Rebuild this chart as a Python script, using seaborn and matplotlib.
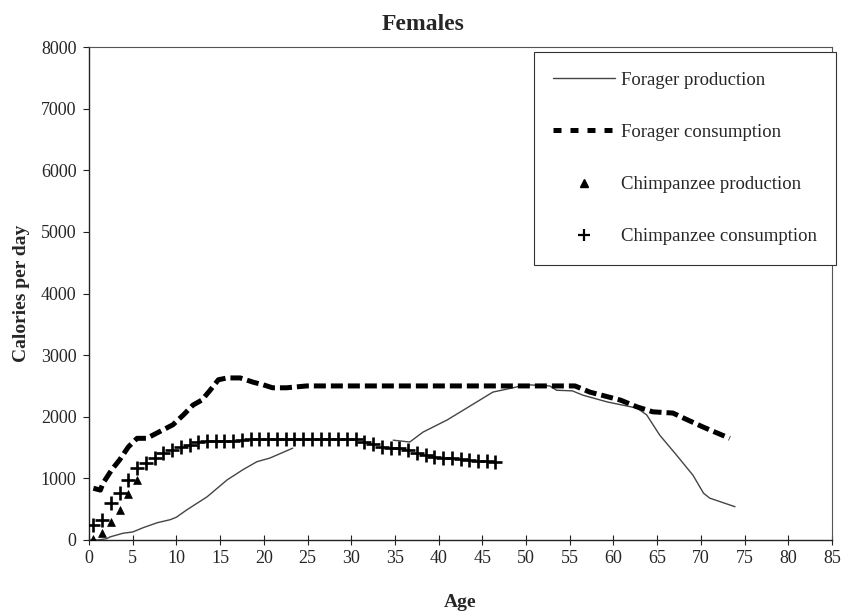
import numpy as np
import pandas as pd
import matplotlib
matplotlib.use("Agg")
import matplotlib.pyplot as plt
from matplotlib.lines import Line2D
import seaborn as sns

# ---------------- data ----------------
forager_prod_age = [0, 1, 2, 2.4, 3.9, 5, 6.2, 7.8, 9.3, 10, 11.2, 13.5, 15.8, 17.6,
                    19.2, 20.7, 23.3,
                    34.8, 36.7, 38.2, 41, 43.2, 46.2, 48.5, 50, 52.7, 53.5, 55.3, 56.5,
                    59.3, 62.7, 63.8, 65.3, 67.2, 69.1, 70.3, 71, 73.9]
forager_prod_cal = [0, 0, 20, 50, 110, 130, 200, 280, 330, 370, 490, 700, 975, 1140,
                    1270, 1330, 1490,
                    1620, 1590, 1750, 1950, 2140, 2400, 2470, 2520, 2500, 2430, 2420, 2350,
                    2240, 2140, 2030, 1700, 1380, 1050, 760, 680, 540]
# segment id: the scanned line is broken between ages ~23 and ~35
forager_prod_seg = [0] * 17 + [1] * 21

forager_cons_age = [0.5, 1.3, 1.6, 2.6, 3.5, 4.5, 5.5, 6.6, 8.1, 9.6, 10.8, 11.9, 12.9,
                    13.8, 14.8, 15.8, 17.3, 18.8, 19.9, 21, 22.6, 24.9, 27, 55.6, 57.3,
                    60.8, 62.7, 64.5, 66.8, 68, 70.3, 73.3]
forager_cons_cal = [840, 810, 920, 1140, 1300, 1510, 1650, 1650, 1760, 1870, 2030, 2190,
                    2270, 2420, 2600, 2630, 2630, 2560, 2520, 2470, 2470, 2500, 2500, 2500,
                    2400, 2270, 2160, 2080, 2060, 1980, 1830, 1650]

chimp_prod_age = [0.5, 1.5, 2.5, 3.5, 4.5, 5.5]
chimp_prod_cal = [20, 110, 290, 490, 750, 970]

chimp_cons_age = [0.5, 1.5, 2.5, 3.5, 4.5, 5.5, 6.5, 7.5, 8.5, 9.5, 10.5, 11.5, 12.5,
                  13.5, 14.5, 15.5, 16.5, 17.5, 18.5, 19.5, 20.5, 21.5, 22.5, 23.5, 24.5,
                  25.5, 26.5, 27.5, 28.5, 29.5, 30.5, 31.5, 32.5, 33.5, 34.5, 35.5, 36.5,
                  37.5, 38.5, 39.5, 40.5, 41.5, 42.5, 43.5, 44.5, 45.5, 46.5]
chimp_cons_cal = [250, 330, 600, 770, 970, 1170, 1250, 1330, 1410, 1460, 1510, 1540, 1590,
                  1610, 1610, 1610, 1610, 1620, 1640, 1640, 1640, 1640, 1640, 1640, 1640,
                  1640, 1640, 1640, 1640, 1640, 1640, 1590, 1560, 1510, 1490, 1490, 1460,
                  1410, 1380, 1350, 1330, 1330, 1320, 1300, 1290, 1280, 1270]

labels = ["Forager production", "Forager consumption",
          "Chimpanzee production", "Chimpanzee consumption"]
x_ticks = list(range(0, 90, 5))
y_ticks = list(range(0, 9000, 1000))

# ---------------- style ----------------
sns.set_theme(style="white")
plt.rcParams['font.family'] = ['Liberation Serif', 'DejaVu Serif']
plt.rcParams['font.size'] = 13

fig = plt.figure(figsize=(8.46, 6.16), dpi=100)
ax = fig.add_axes([89 / 846, 1 - 540 / 616, (832 - 89) / 846, (540 - 47) / 616])

df_fp = pd.DataFrame({"age": forager_prod_age, "cal": forager_prod_cal, "seg": forager_prod_seg})
df_fc = pd.DataFrame({"age": forager_cons_age, "cal": forager_cons_cal})
df_cp = pd.DataFrame({"age": chimp_prod_age, "cal": chimp_prod_cal})
df_cc = pd.DataFrame({"age": chimp_cons_age, "cal": chimp_cons_cal})

sns.lineplot(data=df_fp, x="age", y="cal", units="seg", estimator=None,
             color="#444444", lw=1.0, ax=ax, legend=False)
sns.lineplot(data=df_fc, x="age", y="cal", estimator=None,
             color="black", lw=3.6, linestyle=(0, (2.4, 1.0)), ax=ax, legend=False)
sns.scatterplot(data=df_cp, x="age", y="cal", marker="^", s=32, color="black",
                edgecolor="black", linewidth=0.5, ax=ax, legend=False, zorder=3)
sns.scatterplot(data=df_cc, x="age", y="cal", marker="+", s=100, color="black",
                linewidth=1.9, ax=ax, legend=False, zorder=4)

ax.set_xlim(0, 85)
ax.set_ylim(0, 8000)
ax.set_xticks(x_ticks)
ax.set_yticks(y_ticks)
ax.set_xticklabels([str(t) for t in x_ticks])
ax.set_yticklabels([str(t) for t in y_ticks])
ax.tick_params(axis="x", direction="inout", length=7, width=0.8, color="#222222",
               labelsize=13, pad=4, bottom=True)
ax.tick_params(axis="y", direction="out", length=4, width=0.8, color="#222222",
               labelsize=13, pad=5, left=True)
for s in ["left", "bottom"]:
    ax.spines[s].set_color("#222222")
    ax.spines[s].set_linewidth(1.0)
for s in ["top", "right"]:
    ax.spines[s].set_color("#555555")
    ax.spines[s].set_linewidth(0.8)

fig.text(0.5, 1 - 25 / 616, "Females", fontsize=17, fontweight="bold",
         ha="center", va="center")
ax.set_xlabel("Age", fontsize=14, fontweight="bold", labelpad=19)
ax.set_ylabel("Calories per day", fontsize=14, fontweight="bold", labelpad=8)

handles = [
    Line2D([], [], color="#444444", lw=1.0),
    Line2D([], [], color="black", lw=3.6, linestyle=(0, (1.6, 1.8))),
    Line2D([], [], color="black", marker="^", ms=6, ls="none"),
    Line2D([], [], color="black", marker="+", ms=9, mew=1.6, ls="none"),
]
leg = ax.legend(handles, labels, loc="upper right", bbox_to_anchor=(1.006, 0.99),
                frameon=True, fancybox=False, framealpha=1, edgecolor="#333333",
                fontsize=13.5, handlelength=3.3, handletextpad=0.3, labelspacing=1.87,
                borderpad=1.05, borderaxespad=0)
leg.get_frame().set_linewidth(0.8)

fig.savefig("out.png", dpi=100)
